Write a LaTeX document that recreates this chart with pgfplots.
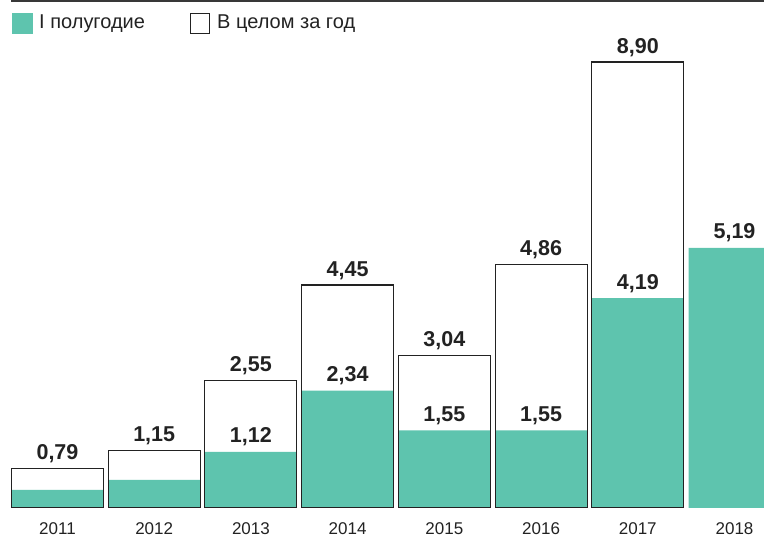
\documentclass[border=0pt]{standalone}
\usepackage{fontspec}
\setmainfont{Liberation Sans}
\usepackage{pgfplots}
\pgfplotsset{compat=1.18}
\definecolor{grn}{HTML}{5EC4AE}
\definecolor{drk}{HTML}{222222}
\begin{document}
\begin{tikzpicture}[x=1pt,y=1pt]
\useasboundingbox (0,0) rectangle (764,538);
\draw[line width=2pt, color=drk!90] (11,537) -- (764,537);
% legend
\fill[grn] (12,504) rectangle (33,525);
\node[anchor=west, inner sep=0pt, font=\fontsize{20}{22}\selectfont, text=drk] at (39,514.5) {I полугодие};
\draw[drk, line width=1.2pt, fill=white] (190.6,504.6) rectangle (209.4,524.4);
\node[anchor=west, inner sep=0pt, font=\fontsize{20}{22}\selectfont, text=drk] at (217,514.5) {В целом за год};
\begin{axis}[
  at={(10pt,30pt)}, anchor=south west,
  scale only axis, width=754pt, height=468pt,
  xmin=-0.491, xmax=7.305, ymin=0, ymax=9.34,
  axis line style={draw=none},
  ytick=\empty,
  xtick={0,...,7},
  xticklabels={2011,2012,2013,2014,2015,2016,2017,2018},
  major tick length=0pt,
  xticklabel style={anchor=base, yshift=-27pt, inner sep=0pt, font=\fontsize{17}{19}\selectfont, text=drk},
  every node near coord/.append style={anchor=base, yshift=9pt, inner sep=0pt, font=\fontsize{21.5}{24}\selectfont\bfseries, text=drk},
]
% totals fill
\addplot[ybar, bar width=0.951, bar shift=0pt, fill=white, draw=none] table[x=x,y=y] {
x y
0 0.79
1 1.15
2 2.55
3 4.45
4 3.04
5 4.86
6 8.90
};
% halves
\addplot[ybar, bar width=0.951, bar shift=0pt, fill=grn, draw=none] table[x=x,y=y] {
x y
0 0.36
1 0.56
2 1.12
3 2.34
4 1.55
5 1.55
6 4.19
7 5.19
};
% totals border + labels
\addplot[ybar, bar width=0.951, bar shift=0pt, fill=none, draw=drk, line width=1.1pt,
  nodes near coords, point meta=explicit symbolic] table[x=x,y=y,meta=lab] {
x y lab
0 0.79 0,79
1 1.15 1,15
2 2.55 2,55
3 4.45 4,45
4 3.04 3,04
5 4.86 4,86
6 8.90 8,90
};
% half labels
\addplot[draw=none, mark=none, nodes near coords, point meta=explicit symbolic] table[x=x,y=y,meta=lab] {
x y lab
2 1.12 1,12
3 2.34 2,34
4 1.55 1,55
5 1.55 1,55
6 4.19 4,19
7 5.19 5,19
};
\end{axis}
\end{tikzpicture}
\end{document}
